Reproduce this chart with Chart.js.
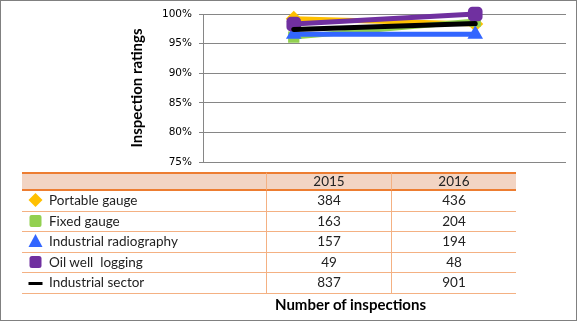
<!DOCTYPE html>
<html>
<head>
<meta charset="utf-8">
<script src="https://cdn.jsdelivr.net/npm/chart.js@4"></script>
<style>
  html, body { margin: 0; padding: 0; background: #fff; }
  #wrap { position: relative; width: 580px; height: 324px; overflow: hidden; font-family: Lato, "Open Sans", sans-serif; }
  #frame { position: absolute; left: 0; top: 0; width: 575px; height: 319px; border: 1px solid #808080; }
  #c { position: absolute; left: 0; top: 0; }
  #ytitle { position: absolute; left: 136px; top: 88px; transform: translate(-50%, -50%) rotate(-90deg); white-space: nowrap; font-weight: bold; font-size: 15px; color: #000; }
  #tbl { position: absolute; left: 22px; top: 172px; border-collapse: separate; border-spacing: 0; table-layout: fixed; font-size: 13.5px; color: #222; }
  #tbl td { padding: 0; height: 19.5px; line-height: 19.5px; border-bottom: 1px solid #F4B183; overflow: hidden; white-space: nowrap; }
  #tbl tr.h td { background: #F2D4C3; height: 15px; line-height: 15px; border-top: 2px solid #ED7D31; border-bottom: 2px solid #ED7D31; text-align: center; }
  #tbl td.c0 { width: 244px; border-right: 1px solid #F4B183; }
  #tbl td.c1 { width: 124px; border-right: 1px solid #F4B183; text-align: center; }
  #tbl td.c2 { width: 124px; text-align: center; }
  .mk { display: inline-block; width: 15px; height: 14px; vertical-align: -2px; margin: 0 6px 0 6px; }
  #xtitle { position: absolute; left: 275px; top: 295px; font-weight: bold; font-size: 15px; color: #000; white-space: nowrap; }
</style>
</head>
<body>
<div id="wrap">
  <canvas id="c" width="580" height="324"></canvas>
  <div id="frame"></div>
  <div id="ytitle">Inspection ratings</div>
  <table id="tbl"></table>
  <div id="xtitle">Number of inspections</div>
</div>
<script>
const categories = ['2015', '2016'];
const seriesNames = ['Portable gauge', 'Fixed gauge', 'Industrial radiography', 'Oil well  logging', 'Industrial sector'];
const portableGauge = [99.2, 98.3];
const fixedGauge = [96.1, 98.8];
const industrialRadiography = [96.6, 96.6];
const oilWellLogging = [98.3, 100.0];
const industrialSector = [97.4, 98.4];
const inspections2015 = [384, 163, 157, 49, 837];
const inspections2016 = [436, 204, 194, 48, 901];
const yTicks = [75, 80, 85, 90, 95, 100];

const colors = ['#FFC000', '#92D050', '#3366FF', '#7030A0', '#000000'];
const shapes = ['rectRot', 'rect', 'triangle', 'rectRounded', false];
const radii = [8, 8, 9, 8.5, 0];
const allSeries = [portableGauge, fixedGauge, industrialRadiography, oilWellLogging, industrialSector];

// table
const svgMarker = (i) => {
  const c = colors[i];
  if (i === 0) return `<svg class="mk" viewBox="0 0 15 14"><polygon points="7.5,0 14.5,7 7.5,14 0.5,7" fill="${c}"/></svg>`;
  if (i === 1) return `<svg class="mk" viewBox="0 0 15 14"><rect x="1.5" y="1" width="12" height="12" rx="2" fill="${c}"/></svg>`;
  if (i === 2) return `<svg class="mk" viewBox="0 0 15 14"><polygon points="7.5,0 14.5,13 0.5,13" fill="${c}"/></svg>`;
  if (i === 3) return `<svg class="mk" viewBox="0 0 15 14"><rect x="1.5" y="1" width="12" height="12" rx="2.5" fill="${c}"/></svg>`;
  return `<svg class="mk" viewBox="0 0 15 14"><rect x="0.5" y="7" width="14" height="3" fill="${c}"/></svg>`;
};
let html = `<tr class="h"><td class="c0"></td><td class="c1">${categories[0]}</td><td class="c2">${categories[1]}</td></tr>`;
seriesNames.forEach((n, i) => {
  html += `<tr><td class="c0">${svgMarker(i)}<span>${n.replace(/  /g, ' &nbsp;')}</span></td><td class="c1">${inspections2015[i]}</td><td class="c2">${inspections2016[i]}</td></tr>`;
});
document.getElementById('tbl').innerHTML = html;

const datasets = allSeries.map((d, i) => ({
  label: seriesNames[i],
  data: d,
  borderColor: colors[i],
  backgroundColor: colors[i],
  borderWidth: 5,
  pointStyle: shapes[i],
  pointRadius: radii[i],
  pointHoverRadius: radii[i],
  pointBorderWidth: 0,
  borderCapStyle: 'round',
  clip: false,
  order: 5 - i
}));

new Chart(document.getElementById('c'), {
  type: 'line',
  data: { labels: categories, datasets },
  options: {
    responsive: false,
    animation: false,
    devicePixelRatio: 1,
    layout: { padding: { left: 0, right: 14, top: 14, bottom: 162 } },
    plugins: { legend: { display: false }, tooltip: { enabled: false } },
    scales: {
      x: { display: false, offset: true },
      y: {
        min: 75, max: 100,
        afterFit: (s) => { s.width = 203; },
        afterBuildTicks: (s) => { s.ticks = yTicks.map(v => ({ value: v })); },
        ticks: {
          callback: (v) => v + '%',
          color: '#000',
          padding: 7,
          font: { family: 'DejaVu Sans', size: 10.5 }
        },
        grid: { color: '#868686', lineWidth: 1, tickLength: 4, drawTicks: true },
        border: { color: '#868686', width: 1 }
      }
    }
  }
});
</script>
</body>
</html>
